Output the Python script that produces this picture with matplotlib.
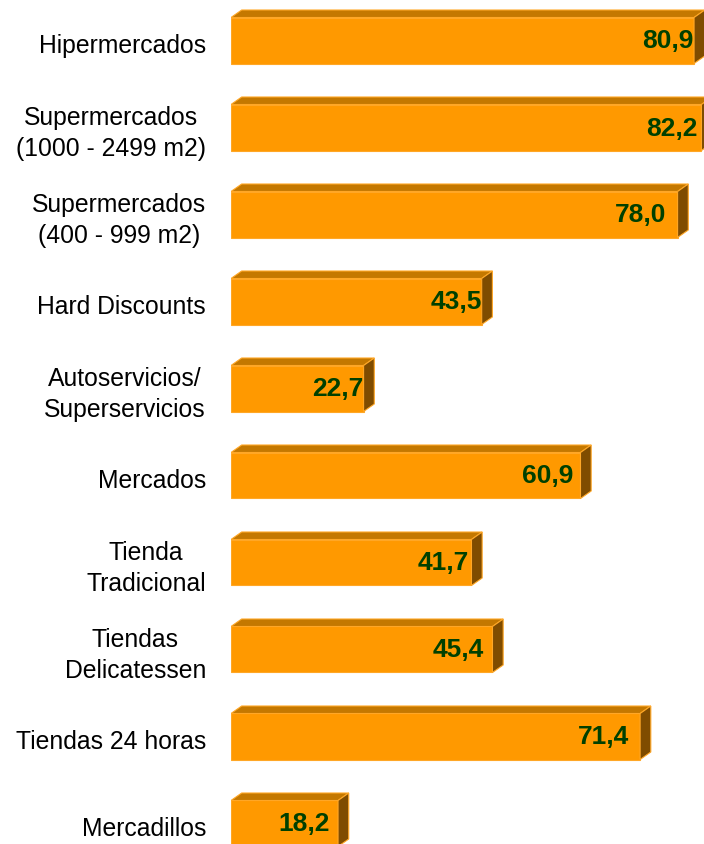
import matplotlib
matplotlib.use("Agg")
import matplotlib.pyplot as plt
from matplotlib.patches import Polygon

plt.rcParams['font.family'] = ['Liberation Sans', 'DejaVu Sans']

categories = [
    "Hipermercados",
    "Supermercados\n(1000 - 2499 m2)",
    "Supermercados\n(400 - 999 m2)",
    "Hard Discounts",
    "Autoservicios/\nSuperservicios",
    "Mercados",
    "Tienda\nTradicional",
    "Tiendas\nDelicatessen",
    "Tiendas 24 horas",
    "Mercadillos",
]
values = [80.9, 82.2, 78.0, 43.5, 22.7, 60.9, 41.7, 45.4, 71.4, 18.2]
value_labels = ["80,9", "82,2", "78,0", "43,5", "22,7", "60,9", "41,7", "45,4", "71,4", "18,2"]

# horizontal nudge (px) of each value label from the bar's front edge
label_gap_px = [1, 4, 11, 0, 0, 7, 3, 9, 11, 8]

W, H = 704, 845
fig = plt.figure(figsize=(W / 100, H / 100), dpi=100)

ax_left_px = 231
ax = fig.add_axes([ax_left_px / W, 0, (W - ax_left_px) / W, 1])

px_per_unit = 5.678
zero_px = 234.7
xmin = -(zero_px - ax_left_px) / px_per_unit
xmax = xmin + (W - ax_left_px) / px_per_unit
ax.set_xlim(xmin, xmax)

row_px = 87.0
first_center_px = 41.5
ax.set_ylim((H - first_center_px) / row_px, -first_center_px / row_px)
ax.axis("off")

bar_h = 46 / row_px
dx = 10.7 / px_per_unit
dy = 7.5 / row_px

front_c = "#FF9900"
top_c = "#C47800"
side_c = "#7F4C00"
edge_c = "#FFA726"
text_c = "#004000"

for i, v in enumerate(values):
    top = i - bar_h / 2
    bot = i + bar_h / 2
    front = Polygon([(xmin, top), (v, top), (v, bot), (xmin, bot)],
                    closed=True, facecolor=front_c, edgecolor=edge_c, lw=0.8)
    topf = Polygon([(xmin, top), (v, top), (v + dx, top - dy), (xmin + dx, top - dy)],
                   closed=True, facecolor=top_c, edgecolor=edge_c, lw=0.8)
    side = Polygon([(v, top), (v + dx, top - dy), (v + dx, bot - dy), (v, bot)],
                   closed=True, facecolor=side_c, edgecolor=edge_c, lw=0.8)
    for p in (front, topf, side):
        ax.add_patch(p)

    ax.annotate(value_labels[i], xy=(v, i), xytext=(-label_gap_px[i] * 0.72, 0),
                textcoords="offset points", ha="right", va="center",
                fontsize=19, fontweight="bold", color=text_c, zorder=5)

    ax.annotate(categories[i], xy=(xmin, i), xytext=(-25 * 0.72, -5 * 0.72),
                textcoords="offset points", ha="right", va="center",
                multialignment="center", fontsize=17.8, color="black",
                annotation_clip=False, linespacing=1.35)

fig.savefig("out.png", dpi=100)
